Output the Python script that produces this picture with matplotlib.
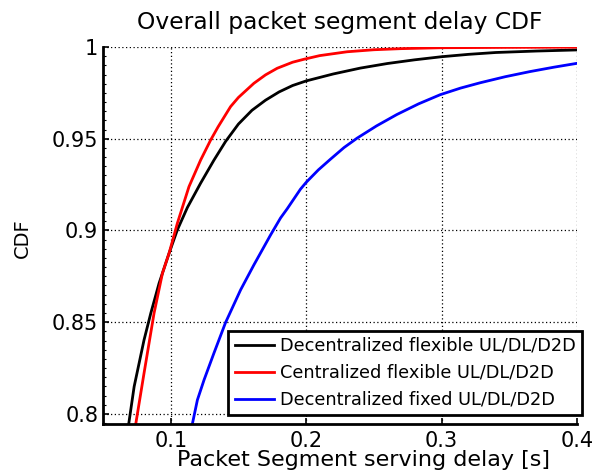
import matplotlib
matplotlib.use("Agg")
import matplotlib.pyplot as plt
from matplotlib.ticker import MultipleLocator

plt.rcParams['font.family'] = ['DejaVu Sans']

# Decentralized flexible UL/DL/D2D
x_dec_flex = [0.0680, 0.0690, 0.0730, 0.0803, 0.0853, 0.0914, 0.0988, 0.1049, 0.1123,
              0.1221, 0.1319, 0.1405, 0.1500, 0.1600, 0.1700, 0.1800, 0.1900, 0.2000,
              0.2200, 0.2400, 0.2600, 0.2800, 0.3000, 0.3200, 0.3400, 0.3700, 0.4000]
y_dec_flex = [0.7900, 0.7946, 0.8149, 0.8403, 0.8549, 0.8712, 0.8876, 0.9003, 0.9125,
              0.9258, 0.9383, 0.9485, 0.9580, 0.9655, 0.9710, 0.9755, 0.9790, 0.9815,
              0.9853, 0.9885, 0.9910, 0.9930, 0.9947, 0.9960, 0.9970, 0.9978, 0.9984]

# Centralized flexible UL/DL/D2D
x_cen_flex = [0.0732, 0.0742, 0.0803, 0.0877, 0.0939, 0.0988, 0.1049, 0.1135, 0.1221, 0.1295,
              0.1350, 0.1442, 0.1500, 0.1614, 0.1700, 0.1786, 0.1900, 0.1983, 0.2100,
              0.2302, 0.2500, 0.2700, 0.3000, 0.3500, 0.4000]
y_cen_flex = [0.7900, 0.7946, 0.8222, 0.8549, 0.8767, 0.8876, 0.9039, 0.9239, 0.9384, 0.9493,
              0.9565, 0.9675, 0.9725, 0.9802, 0.9848, 0.9884, 0.9917, 0.9933, 0.9953,
              0.9974, 0.9985, 0.9991, 0.9996, 0.9998, 0.9999]

# Decentralized fixed UL/DL/D2D
x_dec_fix = [0.1150, 0.1160, 0.1197, 0.1246, 0.1319, 0.1405, 0.1516, 0.1614, 0.1737, 0.1811,
             0.1860, 0.1958, 0.2000, 0.2090, 0.2179, 0.2280, 0.2376, 0.2520, 0.2670, 0.2830,
             0.2990, 0.3140, 0.3285, 0.3470, 0.3653, 0.3830, 0.4000]
y_dec_fix = [0.7900, 0.7946, 0.8076, 0.8185, 0.8331, 0.8498, 0.8676, 0.8812, 0.8975, 0.9068,
             0.9118, 0.9225, 0.9262, 0.9330, 0.9388, 0.9452, 0.9503, 0.9570, 0.9632, 0.9690,
             0.9740, 0.9776, 0.9805, 0.9838, 0.9866, 0.9890, 0.9911]

labels = ['Decentralized flexible UL/DL/D2D',
          'Centralized flexible UL/DL/D2D',
          'Decentralized fixed UL/DL/D2D']
colors = ['#000000', '#ff0000', '#0000ff']

x_ticks = [0.1, 0.2, 0.3, 0.4]
x_ticklabels = ['0.1', '0.2', '0.3', '0.4']
y_ticks = [0.8, 0.85, 0.9, 0.95, 1.0]
y_ticklabels = ['0.8', '0.85', '0.9', '0.95', '1']

fig = plt.figure(figsize=(5.96, 4.73), dpi=100)
ax = fig.add_axes([103/596, 1-424/473, 474/596, 377/473])

series = [(x_dec_flex, y_dec_flex), (x_cen_flex, y_cen_flex), (x_dec_fix, y_dec_fix)]
for (xs, ys), lab, c in zip(series, labels, colors):
    ax.plot(xs, ys, color=c, lw=2.0, label=lab)

ax.set_xlim(0.05, 0.4)
ax.set_ylim(0.7945, 1.0)
ax.set_xticks(x_ticks)
ax.set_xticklabels(x_ticklabels)
ax.set_yticks(y_ticks)
ax.set_yticklabels(y_ticklabels)
ax.yaxis.set_minor_locator(MultipleLocator(0.005))

ax.grid(True, which='major', color='black', linestyle=(0, (1, 2)), linewidth=0.9)
ax.set_axisbelow(True)
for s in ['top', 'right']:
    ax.spines[s].set_visible(False)
for s in ['left', 'bottom']:
    ax.spines[s].set_linewidth(2.0)
    ax.spines[s].set_capstyle('projecting')

ax.tick_params(axis='both', which='major', direction='in', length=4, width=1.2,
               labelsize=15)
ax.tick_params(axis='y', which='minor', direction='in', length=2, width=0.8)
ax.tick_params(axis='x', pad=5)
ax.tick_params(axis='y', pad=3.5)

ax.set_title('Overall packet segment delay CDF', fontsize=16.8, pad=13)
ax.set_xlabel('Packet Segment serving delay [s]', fontsize=16)
ax.xaxis.set_label_coords(0.55, -0.069)
ax.set_ylabel('CDF', fontsize=14)
ax.yaxis.set_label_coords(-0.150, 0.493)

leg = ax.legend(loc='lower right', bbox_to_anchor=(1.0105, 0.024), fontsize=12.8,
                frameon=True, fancybox=False, handlelength=2.2, handletextpad=0.35,
                labelspacing=0.5, borderpad=0.35, borderaxespad=0.0)
leg.get_frame().set_edgecolor('black')
leg.get_frame().set_linewidth(2.0)
leg.get_frame().set_alpha(1)

fig.savefig('out.png', dpi=100)
